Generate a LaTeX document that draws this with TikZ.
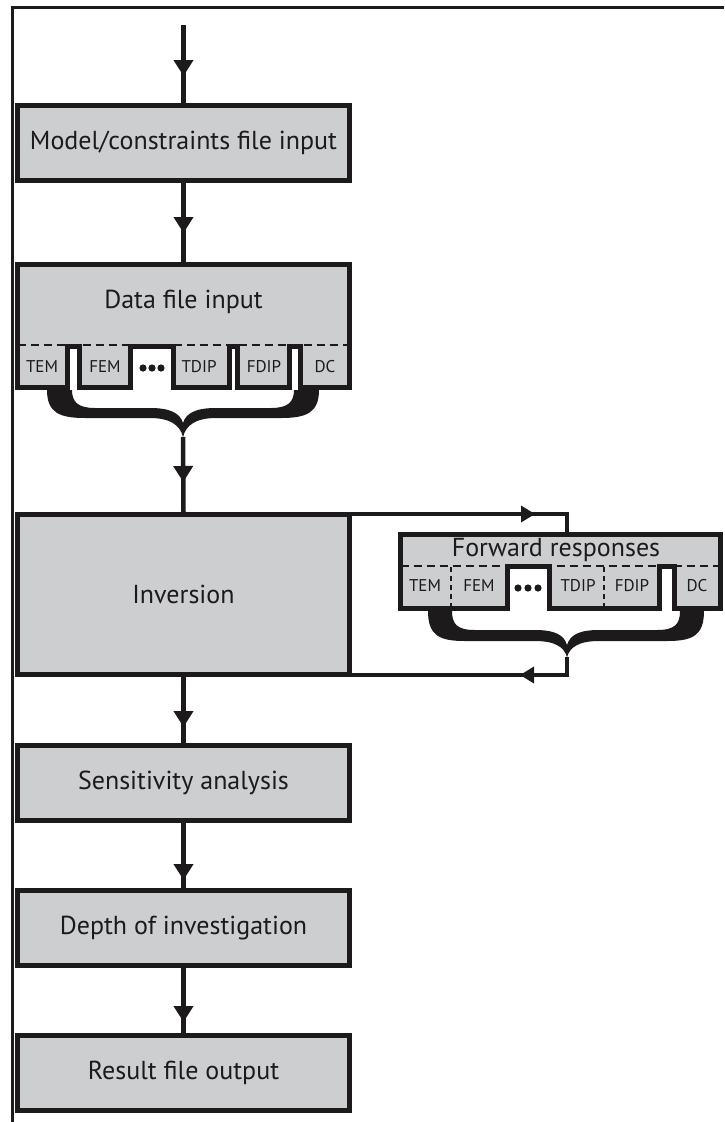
\documentclass[tikz,border=0pt]{standalone}
\usepackage{fontspec}
\setmainfont{PT Sans}
\usetikzlibrary{arrows.meta,decorations.markings}
\definecolor{boxgray}{RGB}{205,206,208}
\definecolor{ink}{RGB}{28,26,27}
\newcommand\mainfs{\fontsize{26}{30}\selectfont}
\newcommand\tabfs{\fontsize{17}{20}\selectfont}
\tikzset{
  flowbox/.style={draw=ink, fill=boxgray, line width=5pt, minimum width=332pt, minimum height=75pt, inner sep=0pt, font=\mainfs, text=ink},
  ghost/.style={inner sep=0pt, outer sep=0pt},
  lbl/.style={font=\mainfs, text=ink, inner sep=0pt},
  tablbl/.style={font=\tabfs, text=ink, inner sep=0pt},
  flowline/.style={draw=ink, line width=4.5pt},
  loopline/.style={draw=ink, line width=3.5pt},
  arrowat/.style={postaction={decorate}, decoration={markings, mark=at position #1 with {\arrow{Triangle[width=19pt,length=16pt]}}}},
  looparrowat/.style={postaction={decorate}, decoration={markings, mark=at position #1 with {\arrow{Triangle[width=16pt,length=14pt]}}}},
  outline/.style={draw=ink, line width=5pt, line join=miter},
  tabdash/.style={draw=ink, line width=2.5pt, dash pattern=on 8pt off 5pt},
  sepdash/.style={draw=ink, line width=1.5pt, dash pattern=on 5pt off 4pt},
  framing/.style={draw=ink, line width=3pt},
}
\begin{document}
\begin{tikzpicture}[x=1pt,y=-1pt]
\fill[white] (0,0) rectangle (724,1122);
\useasboundingbox (0,0) rectangle (724,1122);
\draw[framing] (12,1122) -- (12,7) -- (724,7);

% ---------- main column ----------
\coordinate (start) at (183.5,25);
\node[flowbox] (model) at (183.5,143) {Model/constraints file input};

% data file input box with tabs
\node[ghost, minimum width=337pt, minimum height=128pt] (data) at (183.5,326) {};
\fill[boxgray] (17.5,264.5) -- (349.5,264.5) -- (349.5,387.5) -- (300.5,387.5) -- (300.5,346) -- (289.5,346) -- (289.5,387.5) -- (237.5,387.5) -- (237.5,346) -- (229.5,346) -- (229.5,387.5) -- (173.5,387.5) -- (173.5,346) -- (130.5,346) -- (130.5,387.5) -- (79.5,387.5) -- (79.5,346) -- (67.5,346) -- (67.5,387.5) -- (17.5,387.5) -- cycle;
\draw[tabdash] (17.5,345) -- (349.5,345);
\draw[outline] (17.5,264.5) -- (349.5,264.5) -- (349.5,387.5) -- (300.5,387.5) -- (300.5,346) -- (289.5,346) -- (289.5,387.5) -- (237.5,387.5) -- (237.5,346) -- (229.5,346) -- (229.5,387.5) -- (173.5,387.5) -- (173.5,346) -- (130.5,346) -- (130.5,387.5) -- (79.5,387.5) -- (79.5,346) -- (67.5,346) -- (67.5,387.5) -- (17.5,387.5) -- cycle;
\node[lbl] (datat) at (183.5,302) {Data file input};
\node[tablbl] (dtem) at (42,367) {TEM};
\node[tablbl] (dfem) at (105,367) {FEM};
\node[tablbl] (dtdip) at (199,367) {TDIP};
\node[tablbl] (dfdip) at (264,367) {FDIP};
\node[tablbl] (ddc) at (325,367) {DC};
\fill[ink] (143,368) circle (3.6pt) (152,368) circle (3.6pt) (161,368) circle (3.6pt);

% brace under data box
\fill[ink] (47,390) .. controls (47,413) and (60,418) .. (85,418) -- (150,418) .. controls (170,418) and (180,425) .. (183,437) -- (183,423) .. controls (180,413) and (170,408) .. (150,408) -- (95,408) .. controls (78,408) and (72,402) .. (72,390) -- cycle;
\fill[ink] (319,390) .. controls (319,413) and (306,418) .. (281,418) -- (216,418) .. controls (196,418) and (186,425) .. (183,437) -- (183,423) .. controls (186,413) and (196,408) .. (216,408) -- (271,408) .. controls (288,408) and (294,402) .. (294,390) -- cycle;
\coordinate (b1tip) at (183,437);

\node[flowbox, minimum height=160pt] (inv) at (183.5,594.5) {Inversion};
\node[flowbox] (sens) at (183.5,783) {Sensitivity analysis};
\node[flowbox] (depth) at (183.5,928) {Depth of investigation};
\node[flowbox] (result) at (183.5,1073) {Result file output};

\draw[flowline, arrowat=-27pt] (start) -- (model.north);
\draw[flowline, arrowat=-29pt] (model.south) -- (data.north);
\draw[flowline, arrowat=-30pt] (b1tip) -- (inv.north);
\draw[flowline, arrowat=-16pt] (inv.south) -- (sens.north);
\draw[flowline, arrowat=-8pt] (sens.south) -- (depth.north);
\draw[flowline, arrowat=-11pt] (depth.south) -- (result.north);

% ---------- forward responses ----------
\node[ghost, minimum width=325pt, minimum height=79pt] (fwd) at (560.5,571.5) {};
\fill[boxgray] (400.5,534.5) -- (720.5,534.5) -- (720.5,608.5) -- (674.5,608.5) -- (674.5,566) -- (659.5,566) -- (659.5,608.5) -- (549.5,608.5) -- (549.5,566) -- (507.5,566) -- (507.5,608.5) -- (400.5,608.5) -- cycle;
\draw[tabdash] (400.5,566) -- (720.5,566);
\draw[sepdash] (451,567) -- (451,607);
\draw[sepdash] (604,567) -- (604,607);
\draw[outline] (400.5,534.5) -- (720.5,534.5) -- (720.5,608.5) -- (674.5,608.5) -- (674.5,566) -- (659.5,566) -- (659.5,608.5) -- (549.5,608.5) -- (549.5,566) -- (507.5,566) -- (507.5,608.5) -- (400.5,608.5) -- cycle;
\node[lbl] (fwdt) at (556,550) {Forward responses};
\node[tablbl] (ftem) at (425,586) {TEM};
\node[tablbl] (ffem) at (479,586) {FEM};
\node[tablbl] (ftdip) at (578,586) {TDIP};
\node[tablbl] (ffdip) at (632,586) {FDIP};
\node[tablbl] (fdc) at (697,586) {DC};
\fill[ink] (518,588) circle (3.6pt) (528,588) circle (3.6pt) (538,588) circle (3.6pt);

% brace under forward box
\fill[ink] (428,611) .. controls (428,636) and (440,641) .. (465,641) -- (535,641) .. controls (555,641) and (564,647) .. (567,657) -- (567,645) .. controls (564,635) and (555,630) .. (535,630) -- (475,630) .. controls (457,630) and (452,624) .. (452,611) -- cycle;
\fill[ink] (704,611) .. controls (704,636) and (692,641) .. (667,641) -- (599,641) .. controls (579,641) and (570,647) .. (567,657) -- (567,645) .. controls (570,635) and (579,630) .. (599,630) -- (657,630) .. controls (675,630) and (680,624) .. (680,611) -- cycle;
\coordinate (b2tip) at (567,657);

% loop connectors
\coordinate (lt) at (567,514);
\coordinate (ftop) at (567,532);
\coordinate (lb) at (567,675);
\draw[loopline, looparrowat=183pt] (inv.east |- lt) -- (lt) -- (ftop);
\draw[loopline, looparrowat=65pt] (b2tip) -- (lb) -- (inv.east |- lb);
\end{tikzpicture}
\end{document}
